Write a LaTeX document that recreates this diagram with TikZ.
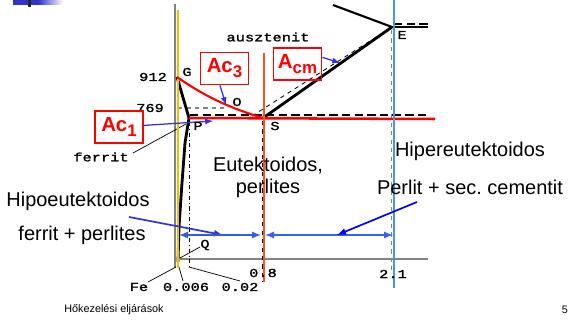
\documentclass[tikz,border=0pt]{standalone}
\usepackage{fontspec}
\setmainfont{Liberation Sans}
\newfontfamily\pixfont[FakeStretch=1.27,FakeBold=1.5]{Liberation Mono}
\usepackage{tikz}
\frenchspacing
\pgfdeclarelayer{edgelayer}
\pgfdeclarelayer{nodelayer}
\pgfsetlayers{edgelayer,nodelayer,main}
\definecolor{acred}{RGB}{255,0,0}
\definecolor{eutorange}{RGB}{255,80,30}
\definecolor{hiperblue}{RGB}{70,150,240}
\definecolor{feyellow}{RGB}{245,190,0}
\definecolor{pointblue}{RGB}{50,50,220}
\definecolor{rangeblue}{RGB}{50,100,240}
\definecolor{axisgray}{RGB}{130,130,130}
\definecolor{tabblue}{RGB}{50,50,200}
\newcommand{\acsub}[1]{\raisebox{-0.45ex}{\fontsize{12}{12}\selectfont #1}}
\tikzstyle{none}=[inner sep=0pt]
\tikzstyle{pixel}=[inner sep=0pt, font=\fontsize{8.6}{8.6}\selectfont\pixfont]
\tikzstyle{phrase}=[inner sep=0pt, font=\fontsize{14.2}{17}\selectfont]
\tikzstyle{footer}=[inner sep=0pt, font=\fontsize{7.7}{8}\selectfont]
\tikzstyle{acbox}=[draw=acred, line width=1.3pt, text=acred, font=\fontsize{14.5}{14.5}\selectfont\bfseries, minimum width=1.2cm, minimum height=0.8cm, inner sep=0pt]
\tikzstyle{phase}=[draw=black, line width=2pt]
\tikzstyle{leader}=[draw=black, line width=0.5pt]
\tikzstyle{metastable}=[draw=black, dashed, line width=0.6pt]
\tikzstyle{pointer}=[draw=pointblue, line width=1.2pt, -latex]

\begin{document}
\begin{tikzpicture}[x=0.025cm, y=-0.025cm]
	\useasboundingbox (0,0) rectangle (568,320);
	% slide corner mark
	\fill [tabblue] (13,0) rectangle (38,5);
	\shade [left color=tabblue, right color=white] (38,0) rectangle (63,5);
	\fill [black!85] (28,0) rectangle (31,7);
	\begin{pgfonlayer}{nodelayer}
		\node [style=pixel] (0) at (268, 37) {ausztenit};
		\node [style=pixel] (1) at (153, 77) {912};
		\node [style=pixel] (2) at (150, 108) {769};
		\node [style=pixel] (3) at (187, 72) {G};
		\node [style=pixel] (4) at (237, 102) {O};
		\node [style=pixel] (5) at (198, 126) {P};
		\node [style=pixel] (6) at (275, 126) {S};
		\node [style=pixel] (7) at (402, 35) {E};
		\node [style=pixel] (8) at (101, 157) {ferrit};
		\node [style=pixel] (9) at (205, 245) {Q};
		\node [style=pixel] (10) at (139, 287) {Fe};
		\node [style=pixel] (11) at (186, 287) {0.006};
		\node [style=pixel] (12) at (240, 287) {0.02};
		\node [style=pixel] (13) at (263, 273) {0.8};
		\node [style=pixel] (14) at (393, 274) {2.1};
		\node [style=acbox] (15) at (224.5, 68.5) {Ac\acsub{3}};
		\node [style=acbox] (16) at (119, 127) {Ac\acsub{1}};
		\node [style=acbox] (17) at (297.5, 64) {A\acsub{cm}};
		\node [style=phrase] (18) at (268, 166) {Eutektoidos,};
		\node [style=phrase] (19) at (268, 188) {perlites};
		\node [style=phrase] (20) at (470, 151) {Hipereutektoidos};
		\node [style=phrase] (21) at (470, 187) {Perlit + sec. cementit};
		\node [style=phrase] (22) at (78, 201) {Hipoeutektoidos};
		\node [style=phrase] (23) at (82, 235) {ferrit + perlites};
		\node [style=footer] (24) at (114, 310) {Hőkezelési eljárások};
		\node [style=footer] (25) at (565, 310) {5};
	\end{pgfonlayer}
	\begin{pgfonlayer}{edgelayer}
		\node [style=none] (30) at (175, 4) {};
		\node [style=none] (31) at (175, 268) {};
		\node [style=none] (32) at (178, 10) {};
		\node [style=none] (33) at (178, 268) {};
		\node [style=none] (34) at (177, 77) {};
		\node [style=none] (35) at (189, 118) {};
		\node [style=none] (36) at (185, 143) {};
		\node [style=none] (37) at (182, 183) {};
		\node [style=none] (38) at (179, 227) {};
		\node [style=none] (39) at (178, 262) {};
		\node [style=none] (40) at (263, 118) {};
		\node [style=none] (41) at (392, 27) {};
		\node [style=none] (42) at (333, 5) {};
		\node [style=none] (43) at (428, 27) {};
		\node [style=none] (44) at (394, 24) {};
		\node [style=none] (45) at (428, 24) {};
		\node [style=none] (46) at (435, 119) {};
		\node [style=none] (47) at (190, 115) {};
		\node [style=none] (48) at (428, 115) {};
		\node [style=none] (49) at (178, 108) {};
		\node [style=none] (50) at (228, 108) {};
		\node [style=none] (51) at (252, 116) {};
		\node [style=none] (52) at (264, 53) {};
		\node [style=none] (53) at (264, 282) {};
		\node [style=none] (54) at (394, 0) {};
		\node [style=none] (55) at (394, 288) {};
		\node [style=none] (56) at (189, 122) {};
		\node [style=none] (57) at (189, 267) {};
		\node [style=none] (58) at (240, 281) {};
		\node [style=none] (59) at (262, 121) {};
		\node [style=none] (60) at (262, 282) {};
		\node [style=none] (61) at (391, 30) {};
		\node [style=none] (62) at (391, 270) {};
		\node [style=none] (63) at (180, 259) {};
		\node [style=none] (64) at (428, 259) {};
		\node [style=none] (65) at (148, 282) {};
		\node [style=none] (66) at (176, 267) {};
		\node [style=none] (67) at (183, 281) {};
		\node [style=none] (68) at (179, 267) {};
		\node [style=none] (69) at (200, 247) {};
		\node [style=none] (70) at (180, 258) {};
		\node [style=none] (71) at (133, 153) {};
		\node [style=none] (72) at (186, 124) {};
		\node [style=none] (80) at (129, 217) {};
		\node [style=none] (81) at (223, 235) {};
		\node [style=none] (82) at (179, 235) {};
		\node [style=none] (83) at (261, 235) {};
		\node [style=none] (84) at (265, 235) {};
		\node [style=none] (85) at (393, 235) {};
		\node [style=none] (86) at (417, 202) {};
		\node [style=none] (87) at (337, 235) {};
		\node [style=none] (88) at (226, 105) {};
		\node [style=none] (89) at (213, 121) {};
		\node [style=none] (90) at (340, 63) {};
		% axes and guide lines
		\draw [draw=axisgray, line width=1.3pt] (30.center) to (31.center);
		\draw [draw=axisgray, line width=1pt] (63.center) to (64.center);
		\draw [draw=axisgray, dashed, line width=0.8pt] (49.center) to (50.center);
		\draw [style=metastable, dash pattern=on 6pt off 3pt, line width=0.9pt] (47.center) to (48.center);
		\draw [style=metastable, dash pattern=on 6pt off 3pt, line width=0.9pt] (44.center) to (45.center);
		\draw [style=metastable] (51.center) to (41.center);
		\draw [style=leader, dash dot] (56.center) to (57.center);
		\draw [style=leader] (57.center) to (58.center);
		\draw [style=metastable] (59.center) to (60.center);
		\draw [style=metastable, draw=axisgray] (61.center) to (62.center);
		% phase boundaries
		\draw [style=phase] (34.center) to (35.center);
		\draw [style=phase] (35.center) to (36.center);
		\draw [style=phase] (36.center) to (37.center);
		\draw [style=phase] (37.center) to (38.center);
		\draw [style=phase] (38.center) to (39.center);
		\draw [style=phase] (35.center) to (40.center);
		\draw [style=phase] (40.center) to (41.center);
		\draw [style=phase, line width=1.5pt] (42.center) to (41.center);
		\draw [style=phase] (41.center) to (43.center);
		% leader lines
		\draw [style=leader] (65.center) to (66.center);
		\draw [style=leader] (67.center) to (68.center);
		\draw [style=leader] (69.center) to (70.center);
		\draw [style=leader] (71.center) to (72.center);
		% critical lines
		\draw [draw=feyellow, line width=1.8pt] (32.center) to (33.center);
		\draw [draw=acred, line width=1.8pt] (35.center) to (46.center);
		\draw [draw=acred, line width=1.5pt] (34.center) .. controls (207, 98) and (233, 109) .. (40.center);
		\draw [draw=eutorange, line width=1.3pt] (52.center) to (53.center);
		\draw [draw=hiperblue, line width=1.3pt] (54.center) to (55.center);
		% pointers
		\draw [style=pointer] (80.center) to (81.center);
		\draw [style=pointer, latex-latex, draw=rangeblue!80!pointblue] (82.center) to (83.center);
		\draw [style=pointer, latex-latex, draw=rangeblue] (84.center) to (85.center);
		\draw [style=pointer, draw=blue] (86.center) to (87.center);
		\draw [style=pointer, line width=0.9pt] (15.-105) to (88.center);
		\draw [style=pointer, line width=0.9pt] (16) to (89.center);
		\draw [style=pointer, line width=0.9pt] (17.15) to (90.center);
	\end{pgfonlayer}
\end{tikzpicture}
\end{document}
